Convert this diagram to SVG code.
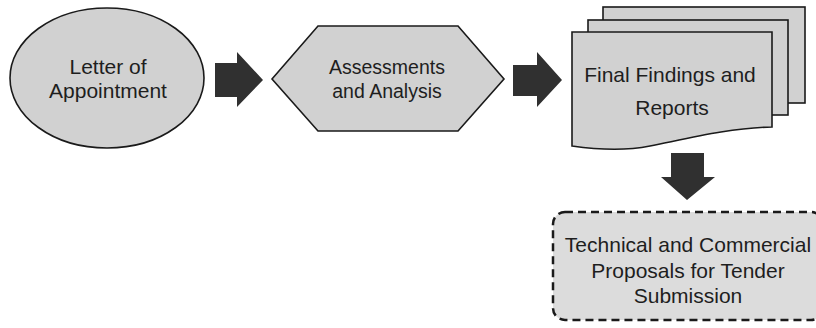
<svg xmlns="http://www.w3.org/2000/svg" width="816" height="328" viewBox="0 0 816 328">
<style>
.shape{fill:#d1d1d1;stroke:#1a1a1a;stroke-width:1.6}
.arrow{fill:#303030;stroke:none}
.t{font-family:"Liberation Sans",Arial,sans-serif;fill:#1e1e1e;text-anchor:middle}
.big{font-size:21px}
.mid{font-size:19.5px}
.dash{fill:#dcdcdc;stroke:#1a1a1a;stroke-width:2.5;stroke-dasharray:8 5}
</style>
<rect width="816" height="328" fill="#ffffff"/>
<g id="connectors">
<path class="arrow" d="M215,63 H237 V52 L263,80 L237,107 V97 H215 Z"/>
<path class="arrow" d="M513,65 H537 V52 L562,80 L537,107 V96 H513 Z"/>
<path class="arrow" d="M671,153 H704 V177 H715 L687,200 L661,177 H671 Z"/>
</g>
<g id="letter">
<ellipse class="shape" cx="107" cy="78" rx="97" ry="70"/>
<text class="t big" x="108" y="74">Letter of</text>
<text class="t big" x="108" y="98">Appointment</text>
</g>
<g id="assessments">
<polygon class="shape" points="272,79 318,26 458,26 504,79 458,131 318,131"/>
<text class="t mid" x="387" y="74">Assessments</text>
<text class="t mid" x="387" y="98">and Analysis</text>
</g>
<g id="findings">
<rect class="shape" x="603" y="7" width="202" height="96"/>
<rect class="shape" x="588" y="20" width="200" height="95"/>
<path class="shape" d="M572,32 H772 V127 C730,128 690,138 650,146 C625,151 600,150 572,146 Z"/>
<text class="t big" x="670" y="82">Final Findings and</text>
<text class="t big" x="672" y="115">Reports</text>
</g>
<g id="proposals">
<rect class="dash" x="553" y="212" width="270" height="108" rx="12"/>
<text class="t big" x="688" y="252">Technical and Commercial</text>
<text class="t big" x="688" y="278">Proposals for Tender</text>
<text class="t big" x="688" y="303">Submission</text>
</g>
</svg>
